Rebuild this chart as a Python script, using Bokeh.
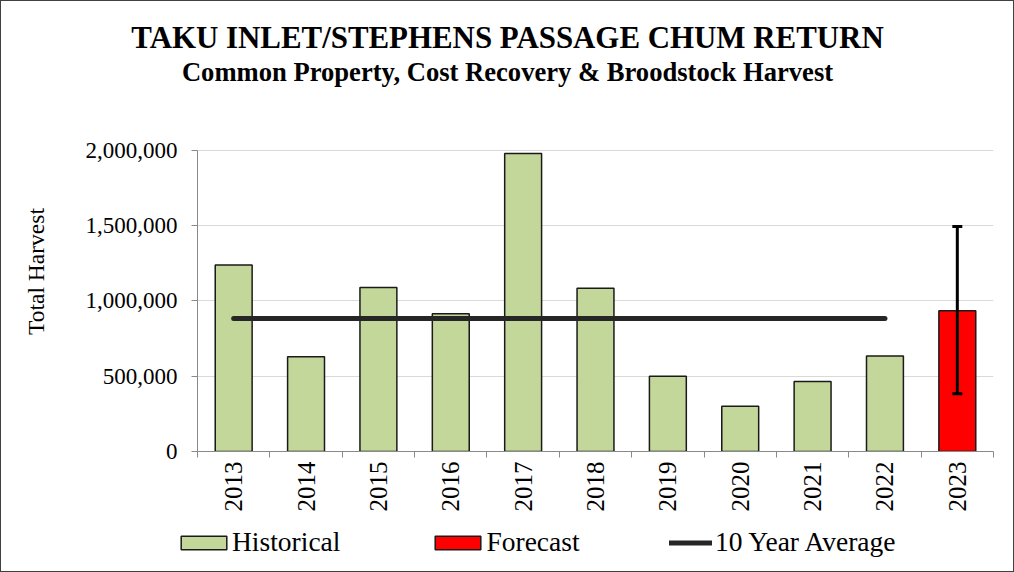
import math
from bokeh.plotting import figure
from bokeh.layouts import column
from bokeh.models import (Range1d, FixedTicker, NumeralTickFormatter, Whisker, TeeHead,
                          ColumnDataSource, Legend, LegendItem, Title)
from bokeh.embed import file_html
from bokeh.resources import INLINE

# ---- data ----
years = ["2013", "2014", "2015", "2016", "2017", "2018", "2019", "2020", "2021", "2022", "2023"]
historical = [1240000, 630000, 1090000, 915000, 1980000, 1085000, 500000, 300000, 465000, 635000]
forecast = [935000]
forecast_low = [383000]
forecast_high = [1495000]
ten_year_average = 884000
y_ticks = [0, 500000, 1000000, 1500000, 2000000]
legend_labels = ["Historical", "Forecast", "10 Year Average"]

FONT = "Liberation Serif"
GREEN = "#c4d79b"
RED = "#ff0000"
AVG = "#262626"
xs = list(range(len(years)))
hist_x = xs[:len(historical)]
fc_x = xs[len(historical):]
W = 1012


def blank(fig):
    fig.axis.visible = False
    fig.grid.grid_line_color = None
    fig.outline_line_color = None
    fig.background_fill_color = "white"
    fig.border_fill_color = "white"


# ---------- title strip ----------
pt = figure(width=W, height=90, output_backend="svg", toolbar_location=None, title=None,
            x_range=Range1d(0, 1), y_range=Range1d(0, 1), frame_align=False,
            min_border_left=0, min_border_right=0, min_border_bottom=0, min_border_top=85)
blank(pt)
pt.add_layout(Title(text="Common Property, Cost Recovery & Broodstock Harvest", align="center",
                    text_font=FONT, text_font_size="26.6px", text_font_style="bold",
                    text_color="black", standoff=0), "above")
pt.add_layout(Title(text="TAKU INLET/STEPHENS PASSAGE CHUM RETURN", align="center",
                    text_font=FONT, text_font_size="30.9px", text_font_style="bold",
                    text_color="black", standoff=0), "above")

# ---------- main chart ----------
p = figure(width=W, height=425, output_backend="svg", toolbar_location=None, title=None,
           x_range=Range1d(-0.5, len(years) - 0.5), y_range=Range1d(0, 2392000),
           frame_align=False,
           min_border_left=196, min_border_right=20, min_border_bottom=65, min_border_top=0)
p.outline_line_color = None
p.background_fill_color = "white"
p.border_fill_color = "white"

src_h = ColumnDataSource(dict(x=hist_x, top=historical))
src_f = ColumnDataSource(dict(x=fc_x, top=forecast, lo=forecast_low, hi=forecast_high))
bar_style = dict(width=0.51, line_color="#1a1a1a", line_width=1.5)
p.vbar(x="x", top="top", source=src_h, fill_color=GREEN, **bar_style)
p.vbar(x="x", top="top", source=src_f, fill_color=RED, **bar_style)
avg_x = [hist_x[0], hist_x[-1]]
avg_y = [ten_year_average, ten_year_average]
p.line(x=avg_x, y=avg_y, line_color=AVG, line_width=5, line_cap="round")
p.add_layout(Whisker(base="x", lower="lo", upper="hi", source=src_f, line_color="black",
                     line_width=3, level="overlay",
                     upper_head=TeeHead(size=10, line_width=3, line_color="black"),
                     lower_head=TeeHead(size=10, line_width=3, line_color="black")))

p.xgrid.grid_line_color = None
p.ygrid.grid_line_color = "#d9d9d9"
p.ygrid.grid_line_width = 1

xa = p.xaxis[0]
xa.ticker = FixedTicker(ticks=xs, minor_ticks=[i - 0.5 for i in range(len(years) + 1)])
xa.major_label_overrides = {i: y for i, y in enumerate(years)}
xa.major_label_orientation = math.pi / 2
xa.major_tick_out = 0
xa.major_tick_in = 0
xa.minor_tick_out = 6
xa.minor_tick_in = 0
xa.minor_tick_line_color = "#898989"
xa.axis_line_color = "#898989"
xa.major_label_standoff = 4
xa.major_label_text_font = FONT
xa.major_label_text_font_size = "25px"
xa.major_label_text_color = "black"

ya = p.yaxis[0]
ya.ticker = FixedTicker(ticks=y_ticks)
ya.formatter = NumeralTickFormatter(format="0,0")
ya.bounds = (y_ticks[0], y_ticks[-1])
ya.major_tick_out = 6
ya.major_tick_in = 0
ya.minor_tick_line_color = None
ya.major_tick_line_color = "#898989"
ya.axis_line_color = "#898989"
ya.major_label_standoff = 14
ya.major_label_text_font = FONT
ya.major_label_text_font_size = "23px"
ya.major_label_text_color = "black"
ya.axis_label = "Total Harvest"
ya.axis_label_text_font = FONT
ya.axis_label_text_font_size = "23.5px"
ya.axis_label_text_font_style = "normal"
ya.axis_label_text_color = "black"
ya.axis_label_standoff = 34

# ---------- legend strip (hidden copies of the series supply the legend swatches) ----------
pl = figure(width=W, height=55, output_backend="svg", toolbar_location=None, title=None,
            x_range=Range1d(0, 1), y_range=Range1d(0, 1), frame_align=False,
            min_border_left=0, min_border_right=0, min_border_bottom=0, min_border_top=0)
blank(pl)
lh = pl.vbar(x="x", top="top", source=src_h, fill_color=GREEN, visible=False, **bar_style)
lf = pl.vbar(x="x", top="top", source=src_f, fill_color=RED, visible=False, **bar_style)
la = pl.line(x=avg_x, y=avg_y, line_color=AVG, line_width=5, line_cap="round", visible=False)

leg_style = dict(orientation="horizontal", padding=0, margin=0,
                 label_text_font=FONT, label_text_font_size="27.5px", label_text_color="black",
                 inactive_fill_alpha=0, border_line_color=None, background_fill_alpha=0)
legend_bars = Legend(items=[LegendItem(label=legend_labels[0], renderers=[lh]),
                            LegendItem(label=legend_labels[1], renderers=[lf])],
                     location=(174, 13), spacing=89, glyph_width=57, glyph_height=17,
                     label_standoff=0, **leg_style)
legend_line = Legend(items=[LegendItem(label=legend_labels[2], renderers=[la])],
                     location=(668, 13), spacing=0, glyph_width=43, glyph_height=17,
                     label_standoff=3, **leg_style)
pl.add_layout(legend_bars, "center")
pl.add_layout(legend_line, "center")

layout = column(pt, p, pl, spacing=0, styles={"border": "1px solid #404040"})
open("out.html", "w").write(file_html(layout, INLINE))
